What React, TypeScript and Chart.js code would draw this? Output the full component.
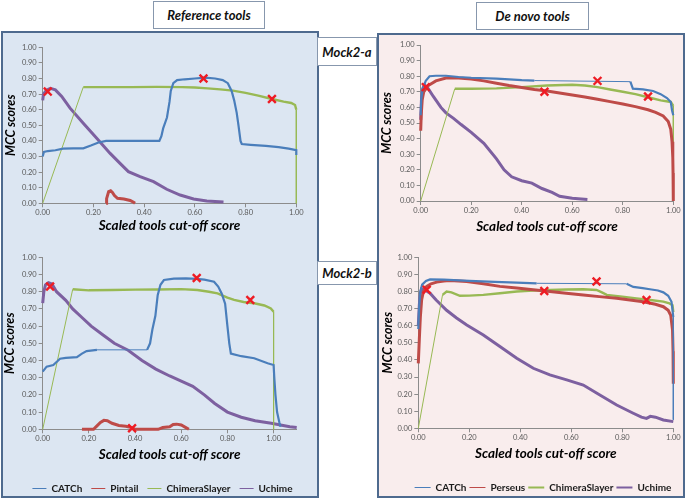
import React, { useEffect, useRef } from "react";
import { Chart, registerables } from "chart.js";
Chart.register(...registerables);

type Pt = [number, number];

const REF_SERIES = ["CATCh", "Pintail", "ChimeraSlayer", "Uchime"];
const DN_SERIES = ["CATCh", "Perseus", "ChimeraSlayer", "Uchime"];
const X_TICKS = [0, 0.2, 0.4, 0.6, 0.8, 1.0];
const Y_TICKS = [0, 0.1, 0.2, 0.3, 0.4, 0.5, 0.6, 0.7, 0.8, 0.9, 1.0];
const X_MAX_REF_A = 1.0;
const X_MAX_DN_A = 1.0;
const X_MAX_REF_B = 1.1;
const X_MAX_DN_B = 1.0;

// ---------- Mock2-a, reference tools ----------
const REF_A_CATCH: Pt[] = [[0,0.30],[0.005,0.33],[0.02,0.335],[0.05,0.34],[0.08,0.35],[0.12,0.352],[0.16,0.352],[0.19,0.37],[0.22,0.39],[0.25,0.40],[0.30,0.40],[0.38,0.40],[0.46,0.40],[0.468,0.43],[0.475,0.48],[0.49,0.55],[0.50,0.65],[0.505,0.72],[0.515,0.77],[0.53,0.79],[0.56,0.795],[0.60,0.80],[0.64,0.805],[0.68,0.80],[0.71,0.79],[0.73,0.77],[0.745,0.72],[0.755,0.66],[0.765,0.58],[0.772,0.50],[0.78,0.40],[0.785,0.38],[0.82,0.375],[0.88,0.368],[0.93,0.36],[0.97,0.35],[1.0,0.34],[1.0,0.31]];
const REF_A_PINTAIL: Pt[] = [[0.25,0],[0.252,0.03],[0.26,0.075],[0.268,0.08],[0.275,0.07],[0.283,0.05],[0.295,0.032],[0.32,0.028],[0.345,0.018],[0.36,0.005],[0.364,0]];
const REF_A_CHIMERA: Pt[] = [[0,0],[0.16,0.745],[0.25,0.745],[0.35,0.745],[0.45,0.746],[0.55,0.745],[0.6,0.742],[0.65,0.737],[0.7,0.73],[0.75,0.722],[0.8,0.708],[0.85,0.69],[0.9,0.67],[0.95,0.652],[0.98,0.643],[0.995,0.63],[1.0,0.60],[1.0,0]];
const REF_A_UCHIME: Pt[] = [[0,0.66],[0.003,0.70],[0.015,0.725],[0.03,0.737],[0.05,0.727],[0.075,0.685],[0.108,0.61],[0.16,0.513],[0.213,0.417],[0.266,0.32],[0.305,0.256],[0.338,0.203],[0.384,0.171],[0.437,0.139],[0.489,0.09],[0.542,0.053],[0.595,0.028],[0.647,0.015],[0.713,0.009]];
const REF_A_MARKS: Pt[] = [[0.02,0.716],[0.634,0.80],[0.904,0.669]];

// ---------- Mock2-a, de novo tools ----------
const DN_A_CATCH: Pt[] = [[0,0.55],[0.002,0.65],[0.008,0.72],[0.02,0.77],[0.035,0.80],[0.06,0.803],[0.1,0.803],[0.15,0.795],[0.2,0.79],[0.3,0.785],[0.4,0.775],[0.45,0.772],[0.83,0.765],[0.84,0.72],[0.88,0.715],[0.92,0.705],[0.95,0.685],[0.975,0.66],[0.99,0.635],[0.995,0.58],[1.0,0.55]];
const DN_A_PERSEUS: Pt[] = [[0,0.45],[0.002,0.55],[0.006,0.65],[0.012,0.70],[0.03,0.74],[0.06,0.77],[0.1,0.788],[0.15,0.788],[0.2,0.782],[0.25,0.77],[0.3,0.755],[0.35,0.74],[0.4,0.728],[0.45,0.715],[0.5,0.705],[0.55,0.693],[0.6,0.68],[0.65,0.667],[0.7,0.652],[0.75,0.637],[0.8,0.622],[0.85,0.605],[0.9,0.585],[0.93,0.568],[0.96,0.545],[0.98,0.51],[0.99,0.46],[0.995,0.38],[0.998,0.28],[0.999,0.18],[1.0,0.09],[1.0,0]];
const DN_A_CHIMERA: Pt[] = [[0,0],[0.135,0.72],[0.2,0.72],[0.3,0.722],[0.4,0.73],[0.5,0.74],[0.6,0.745],[0.65,0.74],[0.7,0.73],[0.75,0.715],[0.8,0.70],[0.85,0.685],[0.9,0.665],[0.95,0.645],[0.99,0.635],[1.0,0.61],[1.0,0.02]];
const DN_A_UCHIME: Pt[] = [[0,0.52],[0.003,0.65],[0.008,0.72],[0.015,0.745],[0.03,0.72],[0.05,0.67],[0.08,0.60],[0.1,0.565],[0.13,0.53],[0.16,0.49],[0.2,0.44],[0.25,0.37],[0.3,0.27],[0.33,0.2],[0.36,0.155],[0.4,0.13],[0.44,0.115],[0.48,0.08],[0.52,0.055],[0.55,0.03],[0.6,0.018],[0.66,0.01]];
const DN_A_MARKS: Pt[] = [[0.02,0.73],[0.49,0.70],[0.70,0.77],[0.90,0.67]];

// ---------- Mock2-b, reference tools ----------
const REF_B_CATCH: Pt[] = [[0,0.335],[0.017,0.364],[0.046,0.374],[0.075,0.41],[0.1,0.415],[0.148,0.42],[0.17,0.44],[0.19,0.455],[0.235,0.462],[0.452,0.462],[0.465,0.5],[0.475,0.58],[0.488,0.66],[0.498,0.78],[0.51,0.84],[0.525,0.868],[0.568,0.876],[0.62,0.877],[0.665,0.875],[0.7,0.87],[0.742,0.858],[0.76,0.83],[0.775,0.79],[0.79,0.73],[0.8,0.6],[0.808,0.5],[0.815,0.44],[0.86,0.425],[0.916,0.413],[0.974,0.384],[1.0,0.374],[1.003,0.3],[1.008,0.2],[1.015,0.1],[1.025,0.04],[1.03,0.015]];
const REF_B_PINTAIL: Pt[] = [[0.17,0],[0.22,0],[0.235,0.02],[0.25,0.04],[0.265,0.052],[0.28,0.05],[0.3,0.035],[0.33,0.022],[0.36,0.018],[0.385,0.01],[0.4,0],[0.5,0],[0.52,0.01],[0.55,0.015],[0.565,0.028],[0.58,0.03],[0.6,0.025],[0.62,0.01],[0.633,0]];
const REF_B_CHIMERA: Pt[] = [[0,0],[0.13,0.814],[0.2,0.808],[0.3,0.81],[0.4,0.812],[0.5,0.813],[0.6,0.815],[0.67,0.81],[0.72,0.8],[0.757,0.79],[0.8,0.765],[0.829,0.752],[0.87,0.74],[0.916,0.733],[0.96,0.72],[0.988,0.703],[1.0,0.684],[1.0,0]];
const REF_B_UCHIME: Pt[] = [[0,0.733],[0.005,0.8],[0.012,0.84],[0.025,0.853],[0.04,0.845],[0.06,0.80],[0.1,0.75],[0.13,0.70],[0.17,0.65],[0.21,0.60],[0.26,0.55],[0.31,0.50],[0.37,0.46],[0.43,0.40],[0.49,0.35],[0.55,0.31],[0.60,0.28],[0.65,0.25],[0.70,0.20],[0.745,0.15],[0.80,0.10],[0.86,0.07],[0.92,0.05],[0.99,0.035],[1.03,0.025],[1.07,0.015],[1.10,0.01]];
const REF_B_MARKS: Pt[] = [[0.032,0.83],[0.667,0.88],[0.899,0.752],[0.387,0.006]];

// ---------- Mock2-b, de novo tools ----------
const DN_B_CATCH: Pt[] = [[0,0.58],[0.003,0.70],[0.008,0.80],[0.015,0.84],[0.03,0.862],[0.046,0.871],[0.1,0.869],[0.2,0.862],[0.3,0.856],[0.386,0.852],[0.464,0.848],[0.817,0.845],[0.843,0.827],[0.88,0.82],[0.908,0.813],[0.94,0.806],[0.961,0.795],[0.98,0.775],[0.993,0.74],[1.0,0.65],[1.0,0.05]];
const DN_B_PERSEUS: Pt[] = [[0,0.38],[0.004,0.52],[0.008,0.65],[0.013,0.75],[0.02,0.80],[0.033,0.83],[0.05,0.845],[0.072,0.855],[0.1,0.862],[0.124,0.865],[0.19,0.858],[0.255,0.845],[0.32,0.83],[0.386,0.82],[0.45,0.81],[0.516,0.80],[0.58,0.79],[0.647,0.78],[0.71,0.77],[0.778,0.76],[0.83,0.75],[0.882,0.74],[0.93,0.725],[0.961,0.711],[0.98,0.69],[0.99,0.66],[0.997,0.575],[0.999,0.45],[1.0,0.35],[1.0,0.26]];
const DN_B_CHIMERA: Pt[] = [[0,0],[0.095,0.78],[0.111,0.80],[0.13,0.795],[0.163,0.775],[0.2,0.776],[0.255,0.78],[0.32,0.79],[0.386,0.80],[0.45,0.805],[0.516,0.809],[0.58,0.812],[0.647,0.813],[0.699,0.809],[0.72,0.795],[0.739,0.78],[0.8,0.77],[0.856,0.76],[0.91,0.75],[0.961,0.741],[0.985,0.73],[0.997,0.72],[1.0,0.68]];
const DN_B_UCHIME: Pt[] = [[0,0.6],[0.004,0.72],[0.008,0.79],[0.013,0.815],[0.025,0.81],[0.046,0.79],[0.07,0.75],[0.111,0.69],[0.15,0.645],[0.19,0.604],[0.255,0.546],[0.32,0.478],[0.386,0.41],[0.451,0.351],[0.516,0.312],[0.582,0.283],[0.647,0.253],[0.712,0.195],[0.778,0.136],[0.843,0.088],[0.875,0.065],[0.895,0.058],[0.91,0.07],[0.93,0.065],[0.961,0.049],[1.0,0.039]];
const DN_B_MARKS: Pt[] = [[0.033,0.81],[0.494,0.803],[0.699,0.858],[0.895,0.75]];

const COLORS = ["#4a7ebb", "#be4b48", "#98b954", "#7d60a0"];
const LINE_W = [2.2, 3, 2.4, 3];
const MARK_COLOR = "#ee1c24";
const AXIS_COLOR = "#8c8c8c";
const FONT = "Lato";

type Spec = {
  rect: { x: number; y: number; w: number; h: number };
  area: { l: number; t: number; r: number; b: number };
  xMax: number;
  names: string[];
  series: Pt[][];
  marks: Pt[];
  yTitleX: number;
  xTitleY: number;
  legend?: { cy: number; pad: number; pw: number; widths: number[] };
};

function buildConfig(s: Spec): any {
  const xTitleSize = 13.5;
  const yTitleSize = 12.5;
  const xHalf = (xTitleSize * 1.2) / 2;
  const yHalf = (yTitleSize * 1.2) / 2;
  const padT = s.area.t - s.rect.y;
  const yW = s.area.l - s.rect.x;
  const rW = s.rect.x + s.rect.w - s.area.r;
  const bottom = s.rect.y + s.rect.h;
  let padB = 0;
  let legH = 0;
  if (s.legend) {
    legH = 10 + s.legend.pad + 10;
    padB = bottom - 15 - s.legend.cy;
  }
  const xH = bottom - padB - legH - s.area.b;
  const xTitlePadB = s.area.b + xH - s.xTitleY - xHalf;
  const yTitlePadT = s.yTitleX - yHalf - s.rect.x;

  const datasets: any[] = s.series.map((pts, i) => ({
    type: "line",
    label: s.names[i],
    data: pts.map(([x, y]) => ({ x, y })),
    borderColor: COLORS[i],
    backgroundColor: COLORS[i],
    borderWidth: LINE_W[i],
    pointRadius: 0,
    pointHoverRadius: 0,
    tension: 0,
    fill: false,
    order: 1,
    clip: 6,
    segment: {
      borderWidth: (ctx: any) => {
        const a = ctx.p0.parsed, b = ctx.p1.parsed;
        return Math.hypot(b.x - a.x, b.y - a.y) > 0.2 ? 1 : undefined;
      },
    },
  }));
  datasets.push({
    type: "line",
    label: "_marks",
    data: s.marks.map(([x, y]) => ({ x, y })),
    showLine: false,
    pointStyle: "crossRot",
    pointRadius: 5.5,
    pointBorderWidth: 2.4,
    pointBorderColor: MARK_COLOR,
    pointBackgroundColor: MARK_COLOR,
    borderColor: MARK_COLOR,
    order: 0,
    clip: false,
  });

  const tickFont = { family: FONT, size: 7.5 };

  return {
    type: "line",
    data: { datasets },
    options: {
      animation: false,
      responsive: false,
      events: [],
      layout: { autoPadding: false, padding: { left: 0, right: 0, top: padT, bottom: padB } },
      plugins: {
        tooltip: { enabled: false },
        legend: s.legend
          ? {
              display: true,
              position: "bottom",
              labels: {
                usePointStyle: true,
                pointStyle: "line",
                pointStyleWidth: s.legend.pw,
                padding: s.legend.pad,
                color: "#1a1a1a",
                font: { family: FONT, size: 10, weight: "bold" },
                generateLabels: (chart: any) => {
                  const items = (Chart.defaults.plugins.legend.labels as any).generateLabels(chart);
                  return items
                    .filter((it: any) => it.datasetIndex < s.series.length)
                    .map((it: any) => ({ ...it, lineWidth: s.legend!.widths[it.datasetIndex] }));
                },
              },
            }
          : { display: false },
      },
      scales: {
        x: {
          type: "linear",
          min: 0,
          max: s.xMax,
          afterBuildTicks: (scale: any) => {
            scale.ticks = X_TICKS.map((v) => ({ value: v }));
          },
          afterFit: (scale: any) => {
            scale.height = xH;
          },
          ticks: {
            font: tickFont,
            color: "#595959",
            padding: 1,
            maxRotation: 0,
            autoSkip: false,
            callback: (v: any) => Number(v).toFixed(2),
          },
          grid: { drawOnChartArea: false, drawTicks: true, tickLength: 4, color: AXIS_COLOR },
          border: { display: true, color: AXIS_COLOR, width: 1 },
          title: {
            display: true,
            text: "Scaled tools cut-off score",
            font: { family: FONT, size: xTitleSize, weight: "bold", style: "italic" },
            color: "#000",
            padding: { top: 0, bottom: xTitlePadB },
          },
        },
        y: {
          type: "linear",
          position: "left",
          min: 0,
          max: 1,
          afterBuildTicks: (scale: any) => {
            scale.ticks = Y_TICKS.map((v) => ({ value: v }));
          },
          afterFit: (scale: any) => {
            scale.width = yW;
          },
          ticks: {
            font: tickFont,
            color: "#595959",
            padding: 2,
            autoSkip: false,
            callback: (v: any) => Number(v).toFixed(2),
          },
          grid: { drawOnChartArea: false, drawTicks: true, tickLength: 4, color: AXIS_COLOR },
          border: { display: true, color: AXIS_COLOR, width: 1 },
          title: {
            display: true,
            text: "MCC scores",
            font: { family: FONT, size: yTitleSize, weight: "bold", style: "italic" },
            color: "#000",
            padding: { top: yTitlePadT, bottom: 0 },
          },
        },
        yR: {
          type: "linear",
          position: "right",
          display: true,
          afterFit: (scale: any) => {
            scale.width = rW;
          },
          ticks: { display: false },
          grid: { display: false, drawTicks: false },
          border: { display: false },
          title: { display: false },
        },
      },
    },
  };
}

const SPECS: Spec[] = [
  {
    rect: { x: 3, y: 37, w: 309, h: 203 },
    area: { l: 42.7, t: 47.3, r: 296.3, b: 203.3 },
    xMax: X_MAX_REF_A,
    names: REF_SERIES,
    series: [REF_A_CATCH, REF_A_PINTAIL, REF_A_CHIMERA, REF_A_UCHIME],
    marks: REF_A_MARKS,
    yTitleX: 10.5,
    xTitleY: 226,
  },
  {
    rect: { x: 379, y: 35, w: 311, h: 203 },
    area: { l: 420.7, t: 45, r: 673.3, b: 201 },
    xMax: X_MAX_DN_A,
    names: DN_SERIES,
    series: [DN_A_CATCH, DN_A_PERSEUS, DN_A_CHIMERA, DN_A_UCHIME],
    marks: DN_A_MARKS,
    yTitleX: 387,
    xTitleY: 226.5,
  },
  {
    rect: { x: 3, y: 247, w: 319, h: 257 },
    area: { l: 42.7, t: 257.3, r: 296.7, b: 429.3 },
    xMax: X_MAX_REF_B,
    names: REF_SERIES,
    series: [REF_B_CATCH, REF_B_PINTAIL, REF_B_CHIMERA, REF_B_UCHIME],
    marks: REF_B_MARKS,
    yTitleX: 10,
    xTitleY: 455,
    legend: { cy: 488.5, pad: 9, pw: 14, widths: [1, 1, 1, 1] },
  },
  {
    rect: { x: 380, y: 247, w: 326, h: 256 },
    area: { l: 418.3, t: 257.3, r: 673.3, b: 428.3 },
    xMax: X_MAX_DN_B,
    names: DN_SERIES,
    series: [DN_B_CATCH, DN_B_PERSEUS, DN_B_CHIMERA, DN_B_UCHIME],
    marks: DN_B_MARKS,
    yTitleX: 388,
    xTitleY: 454,
    legend: { cy: 487.5, pad: 3, pw: 16, widths: [1, 1, 2, 2] },
  },
];

function ChartBox({ spec }: { spec: Spec }) {
  const ref = useRef<HTMLCanvasElement>(null);
  useEffect(() => {
    const chart = new Chart(ref.current as HTMLCanvasElement, buildConfig(spec));
    return () => chart.destroy();
  }, [spec]);
  const { x, y, w, h } = spec.rect;
  return (
    <canvas
      ref={ref}
      width={w}
      height={h}
      style={{ position: "absolute", left: x, top: y, width: w, height: h }}
    />
  );
}

const boxStyle = (left: number, top: number, width: number, height: number): React.CSSProperties => ({
  position: "absolute",
  left,
  top,
  width,
  height,
  boxSizing: "border-box",
  background: "#ffffff",
  border: "1px solid #8797ad",
  display: "flex",
  alignItems: "center",
  justifyContent: "center",
  fontFamily: FONT,
  fontWeight: "bold",
  fontStyle: "italic",
  fontSize: 13,
  color: "#111",
  whiteSpace: "nowrap",
});

export default function App() {
  return (
    <div
      style={{
        position: "fixed",
        left: 0,
        top: 0,
        width: 696,
        height: 501,
        overflow: "hidden",
        background: "#ffffff",
      }}
    >
      <div
        style={{
          position: "absolute",
          left: 1,
          top: 31,
          width: 318,
          height: 467,
          boxSizing: "border-box",
          background: "#dce6f2",
          border: "2px solid #4e6a8e",
        }}
      />
      <div
        style={{
          position: "absolute",
          left: 377,
          top: 33,
          width: 308,
          height: 465,
          boxSizing: "border-box",
          background: "#f9eded",
          border: "2px solid #4e6a8e",
        }}
      />
      {SPECS.map((s, i) => (
        <ChartBox key={i} spec={s} />
      ))}
      <div style={boxStyle(153, 1, 112, 28)}>Reference tools</div>
      <div style={boxStyle(476, 2, 113, 28)}>De novo tools</div>
      <div style={boxStyle(317, 37, 60, 29)}>Mock2-a</div>
      <div style={boxStyle(317, 261, 60, 24)}>Mock2-b</div>
    </div>
  );
}
